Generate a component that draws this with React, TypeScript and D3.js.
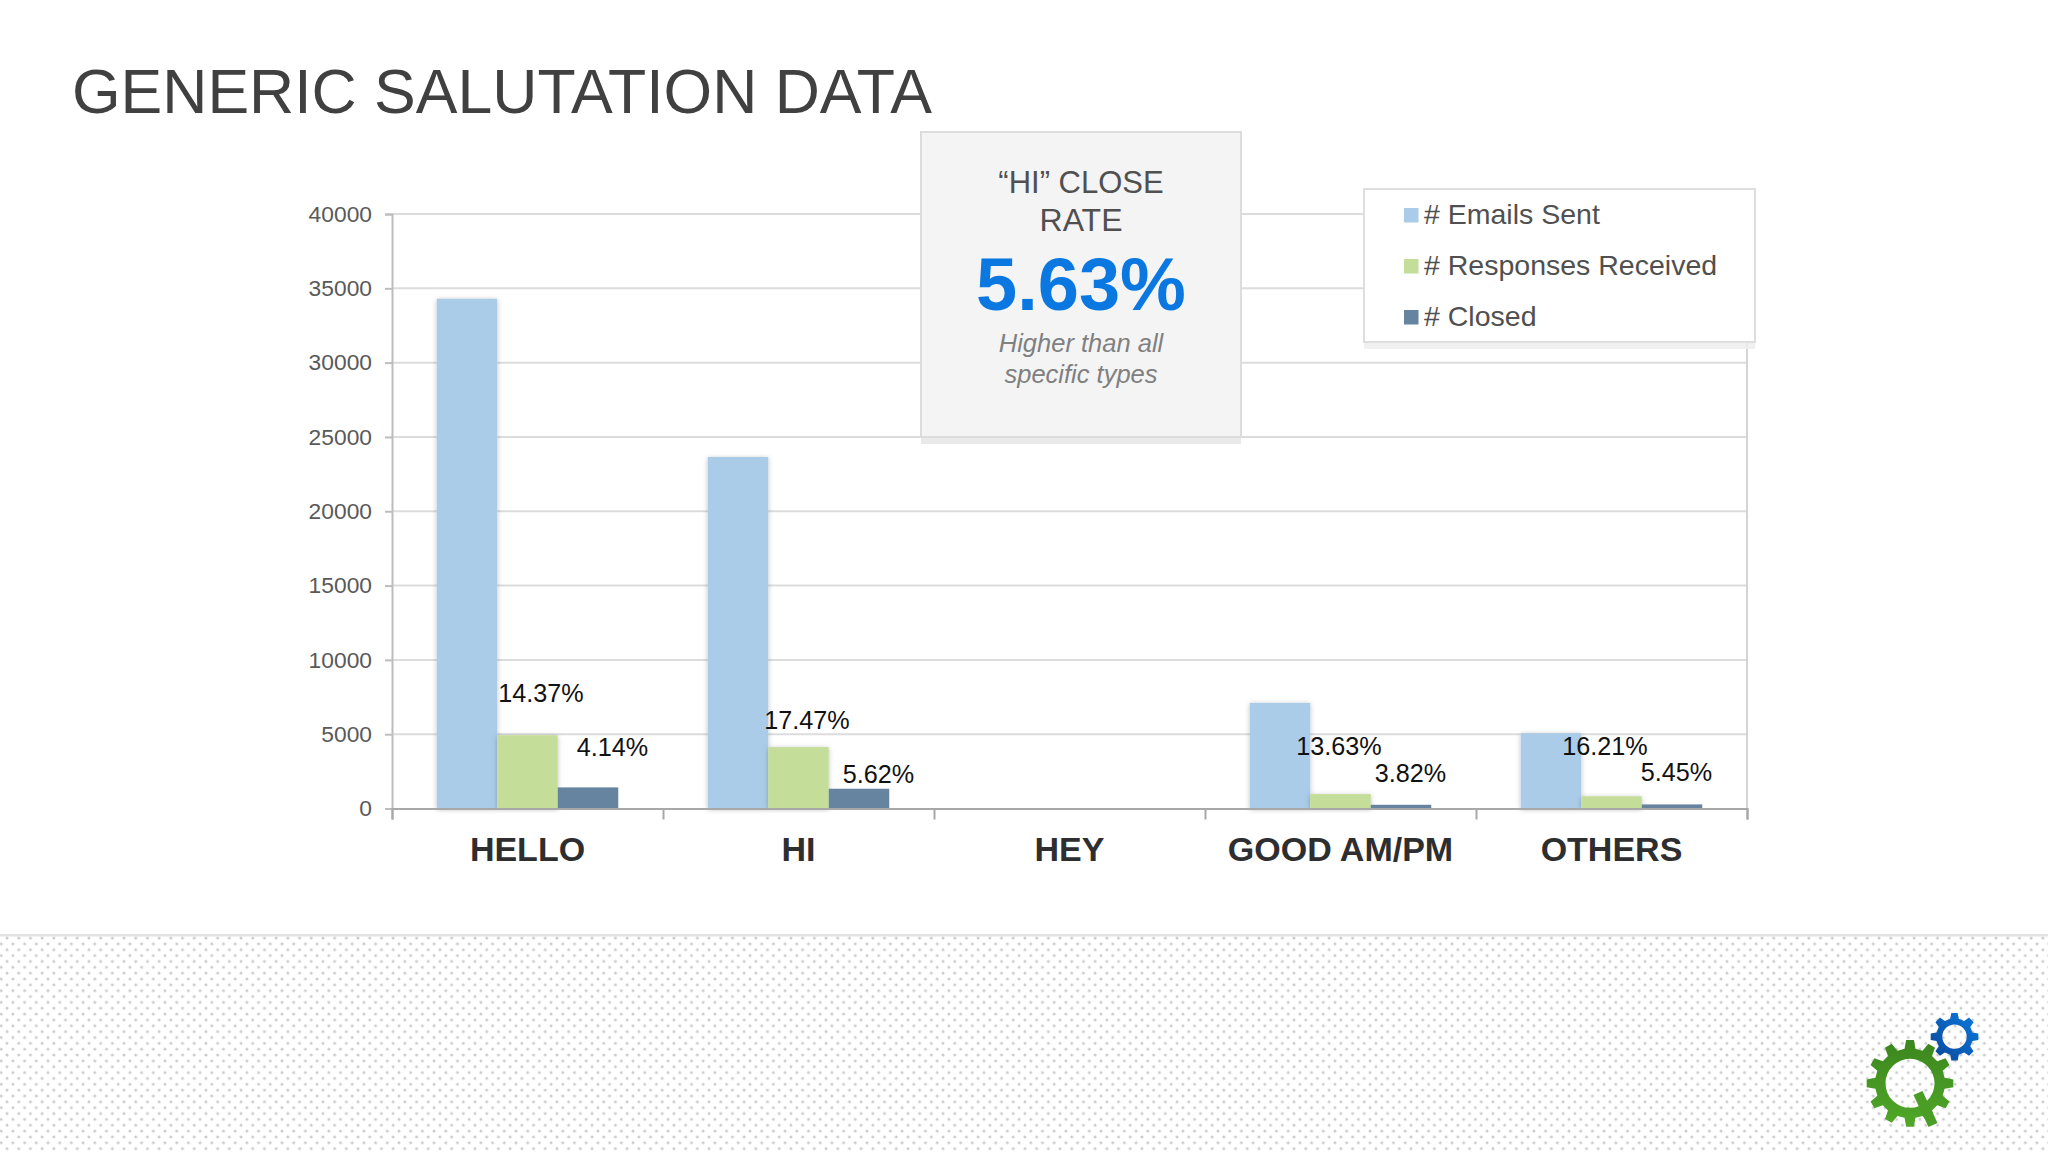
import React, { useEffect, useRef } from 'react';
import * as d3 from 'd3';

const categories = ['HELLO', 'HI', 'HEY', 'GOOD AM/PM', 'OTHERS'];
const seriesNames = ['# Emails Sent', '# Responses Received', '# Closed'];
const emailsSent = [34300, 23650, 0, 7110, 5070];
const responsesReceived = [4930, 4130, 0, 970, 822];
const closed = [1420, 1330, 0, 250, 276];
const responseRates = ['14.37%', '17.47%', '', '13.63%', '16.21%'];
const closeRates = ['4.14%', '5.62%', '', '3.82%', '5.45%'];
const yTicks = [0, 5000, 10000, 15000, 20000, 25000, 30000, 35000, 40000];

const seriesColors = ['#abcce8', '#c4de9a', '#66849f'];

// hand placed labels in the original, offset from the top left of their bar
const responseLabelOffsets = [[1, -33], [-4, -18], [0, 0], [-14, -39], [-19, -41]];
const closeLabelOffsets = [[19, -31], [14, -6], [0, 0], [4, -23], [-1, -23]];

const WIDTH = 2048;
const HEIGHT = 1152;
const FONT = '"Liberation Sans", Arial, sans-serif';

// closed outline of a cog wheel around 0,0
function gearPath(teeth: number, outer: number, root: number) {
  const step = (Math.PI * 2) / teeth;
  const pts: [number, number][] = [];
  for (let i = 0; i < teeth; i++) {
    const a = i * step;
    pts.push([a - step * 0.3, root]);
    pts.push([a - step * 0.17, outer]);
    pts.push([a + step * 0.17, outer]);
    pts.push([a + step * 0.3, root]);
  }
  return d3.lineRadial().curve(d3.curveLinearClosed)(pts) as string;
}

function circlePath(r: number) {
  return `M${-r},0A${r},${r} 0 1,0 ${r},0A${r},${r} 0 1,0 ${-r},0Z`;
}

const App: React.FC = () => {
  const svgRef = useRef<SVGSVGElement>(null);

  useEffect(() => {
    if (!svgRef.current) return;

    const svg = d3.select(svgRef.current);
    svg.selectAll('*').remove();

    const x = d3.scaleBand<string>().domain(categories).range([392, 1747]);
    const y = d3.scaleLinear().domain([0, 40000]).range([808.5, 214]);
    const barWidth = 60.5;
    const barLeft = (cat: string, s: number) =>
      (x(cat) as number) + (x.bandwidth() - barWidth * 3) / 2 + s * barWidth;

    const defs = svg.append('defs');

    const shadow = defs.append('filter').attr('id', 'barShadow')
      .attr('x', '-20%').attr('y', '-5%').attr('width', '140%').attr('height', '110%');
    shadow.append('feDropShadow')
      .attr('dx', 0).attr('dy', 1).attr('stdDeviation', 2.5)
      .attr('flood-color', '#000').attr('flood-opacity', 0.25);

    const dots = defs.append('pattern').attr('id', 'dots')
      .attr('patternUnits', 'userSpaceOnUse')
      .attr('x', 1.2).attr('y', 938)
      .attr('width', 11.7).attr('height', 11.7);
    dots.append('circle').attr('cx', 5.85).attr('cy', 0).attr('r', 1.5).attr('fill', '#cbcbcb');
    dots.append('circle').attr('cx', 5.85).attr('cy', 11.7).attr('r', 1.5).attr('fill', '#cbcbcb');
    dots.append('circle').attr('cx', 0).attr('cy', 5.85).attr('r', 1.5).attr('fill', '#cbcbcb');
    dots.append('circle').attr('cx', 11.7).attr('cy', 5.85).attr('r', 1.5).attr('fill', '#cbcbcb');

    const greenGrad = defs.append('linearGradient').attr('id', 'greenGear')
      .attr('x1', 0).attr('y1', 0).attr('x2', 0).attr('y2', 1);
    greenGrad.append('stop').attr('offset', 0).attr('stop-color', '#3b861e');
    greenGrad.append('stop').attr('offset', 1).attr('stop-color', '#50a828');

    const blueGrad = defs.append('linearGradient').attr('id', 'blueGear')
      .attr('x1', 1).attr('y1', 0).attr('x2', 0).attr('y2', 1);
    blueGrad.append('stop').attr('offset', 0).attr('stop-color', '#0a7ae0');
    blueGrad.append('stop').attr('offset', 1).attr('stop-color', '#0c4796');

    svg.append('rect').attr('width', WIDTH).attr('height', HEIGHT).attr('fill', '#fff');

    // Title
    svg.append('text')
      .attr('x', 72).attr('y', 113)
      .attr('font-family', FONT).attr('font-size', 62.5).attr('fill', '#404040')
      .text('GENERIC SALUTATION DATA');

    // Grid and right border
    svg.append('g').selectAll('line')
      .data(yTicks.filter(d => d > 0))
      .enter().append('line')
      .attr('x1', x.range()[0]).attr('x2', x.range()[1])
      .attr('y1', d => y(d)).attr('y2', d => y(d))
      .attr('stroke', '#dcdcdc').attr('stroke-width', 2);
    svg.append('line')
      .attr('x1', 1747).attr('x2', 1747)
      .attr('y1', y(40000)).attr('y2', y(0))
      .attr('stroke', '#d4d4d6').attr('stroke-width', 2);

    // Bars
    const series = [emailsSent, responsesReceived, closed];
    series.forEach((values, s) => {
      svg.append('g')
        .attr('filter', s < 2 ? 'url(#barShadow)' : null)
        .selectAll('rect')
        .data(values)
        .enter().append('rect')
        .attr('x', (_, i) => barLeft(categories[i], s))
        .attr('y', d => y(d))
        .attr('width', barWidth)
        .attr('height', d => y(0) - y(d))
        .attr('fill', seriesColors[s]);
    });

    // Axes
    const yAxis = svg.append('g')
      .attr('transform', `translate(${x.range()[0]},0)`)
      .call(d3.axisLeft(y).tickValues(yTicks).tickFormat(d3.format('d')).tickSize(7).tickPadding(13));
    yAxis.selectAll('path, line').attr('stroke', '#bdbdbd').attr('stroke-width', 2);
    yAxis.selectAll('text')
      .attr('font-family', FONT).attr('font-size', 22.8).attr('fill', '#595959');

    const tickScale = d3.scaleLinear().domain([0, 5]).range(x.range());
    const xTicks = svg.append('g')
      .attr('transform', `translate(0,${y(0)})`)
      .call(d3.axisBottom(tickScale).ticks(5).tickSize(11).tickSizeOuter(11).tickFormat(() => ''));
    xTicks.selectAll('path, line').attr('stroke', '#a8a8a8').attr('stroke-width', 2);

    svg.append('g').selectAll('text')
      .data(categories)
      .enter().append('text')
      .attr('x', d => (x(d) as number) + x.bandwidth() / 2)
      .attr('y', 861)
      .attr('text-anchor', 'middle')
      .attr('font-family', FONT).attr('font-size', 34).attr('font-weight', 700)
      .attr('fill', '#2e2e30')
      .text(d => d);

    // Rate labels
    const drawLabels = (labels: string[], s: number, values: number[], offsets: number[][]) => {
      svg.append('g').selectAll('text')
        .data(labels)
        .enter().append('text')
        .attr('x', (_, i) => barLeft(categories[i], s) + offsets[i][0])
        .attr('y', (_, i) => y(values[i]) + offsets[i][1])
        .attr('font-family', FONT).attr('font-size', 25.2).attr('fill', '#111')
        .text(d => d);
    };
    drawLabels(responseRates, 1, responsesReceived, responseLabelOffsets);
    drawLabels(closeRates, 2, closed, closeLabelOffsets);

    // Close rate callout
    const callout = svg.append('g');
    callout.append('rect').attr('x', 921).attr('y', 140).attr('width', 320).attr('height', 304).attr('fill', '#e9e9ea');
    callout.append('rect')
      .attr('x', 921).attr('y', 132).attr('width', 320).attr('height', 305)
      .attr('fill', '#f4f4f5').attr('stroke', '#dcdcdd').attr('stroke-width', 2);
    const calloutText = (t: string, yPos: number, size: number, fill: string, extra?: { weight?: number; italic?: boolean }) => {
      callout.append('text')
        .attr('x', 1081).attr('y', yPos)
        .attr('text-anchor', 'middle')
        .attr('font-family', FONT).attr('font-size', size).attr('fill', fill)
        .attr('font-weight', extra?.weight ?? 400)
        .attr('font-style', extra?.italic ? 'italic' : 'normal')
        .text(t);
    };
    calloutText('\u201cHI\u201d CLOSE', 193, 31, '#505050');
    calloutText('RATE', 231, 32, '#505050');
    calloutText('5.63%', 310, 74, '#0a78e0', { weight: 700 });
    calloutText('Higher than all', 352, 25.5, '#808080', { italic: true });
    calloutText('specific types', 383, 25.5, '#808080', { italic: true });

    // Legend
    const legend = svg.append('g');
    legend.append('rect').attr('x', 1364).attr('y', 196).attr('width', 391).attr('height', 153).attr('fill', '#ececec').attr('opacity', 0.8);
    legend.append('rect')
      .attr('x', 1364).attr('y', 189).attr('width', 391).attr('height', 153)
      .attr('fill', '#fff').attr('stroke', '#dedede').attr('stroke-width', 2);
    const legendY = d3.scalePoint<string>().domain(seriesNames).range([215, 317]);
    const legendRow = legend.selectAll('g.row')
      .data(seriesNames)
      .enter().append('g')
      .attr('class', 'row')
      .attr('transform', d => `translate(0,${legendY(d)})`);
    legendRow.append('rect')
      .attr('x', 1404).attr('y', -7).attr('width', 14.5).attr('height', 14.5)
      .attr('fill', (_, i) => seriesColors[i]);
    legendRow.append('text')
      .attr('x', 1424).attr('y', 8.5)
      .attr('font-family', FONT).attr('font-size', 28.5).attr('fill', '#505050')
      .text(d => d);

    // Dotted footer
    svg.append('rect').attr('x', 0).attr('y', 935).attr('width', WIDTH).attr('height', 217).attr('fill', 'url(#dots)');
    svg.append('rect').attr('x', 0).attr('y', 934).attr('width', WIDTH).attr('height', 2.5).attr('fill', '#e2e2e2');

    // Logo
    const logo = svg.append('g');
    logo.append('path')
      .attr('transform', 'translate(1954.5,1036.7)')
      .attr('d', gearPath(8, 24, 18.5) + circlePath(12.2))
      .attr('fill', 'url(#blueGear)')
      .attr('fill-rule', 'evenodd');
    logo.append('path')
      .attr('transform', 'translate(1910,1083.3)')
      .attr('d', gearPath(12, 43.5, 35) + circlePath(24.5))
      .attr('fill', 'url(#greenGear)')
      .attr('fill-rule', 'evenodd');
    logo.append('line')
      .attr('x1', 1918).attr('y1', 1093).attr('x2', 1933).attr('y2', 1125)
      .attr('stroke', '#4a9e26').attr('stroke-width', 10);
  }, []);

  return (
    <svg
      ref={svgRef}
      width={WIDTH}
      height={HEIGHT}
      style={{ position: 'absolute', left: 0, top: 0, display: 'block' }}
    />
  );
};

export default App;
